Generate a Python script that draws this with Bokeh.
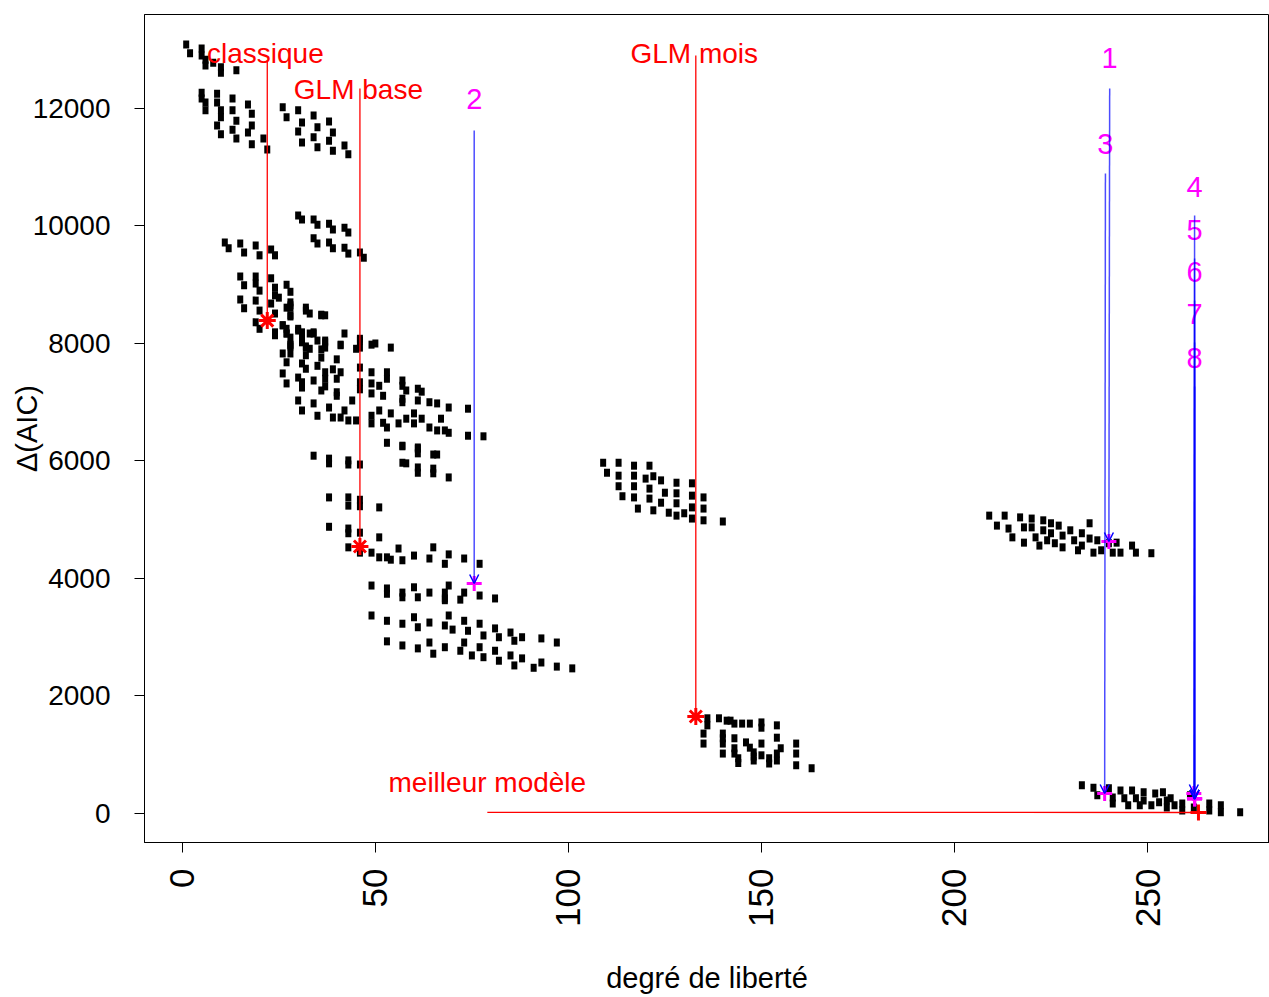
import math
from bokeh.plotting import figure
from bokeh.models import Range1d, FixedTicker, Arrow, OpenHead
from bokeh.core.properties import value
from bokeh.embed import file_html
from bokeh.resources import INLINE

FONT = "Liberation Sans"

# ---------------- data: (degré de liberté, Δ(AIC)) ----------------
df_a = [1, 2, 5, 5, 6, 6, 8, 10, 10, 14,
        5, 5, 6, 6, 9, 9, 10, 10, 9, 10, 13, 13, 14, 13, 14, 17, 18, 18, 17, 18, 21, 22]
aic_a = [13090, 12940, 13020, 12900, 12830, 12730, 12780, 12700, 12610, 12650,
         12270, 12170, 12100, 11970, 12250, 12100, 11970, 11850, 11710, 11560, 12170, 11970,
         11790, 11640, 11490, 12070, 11910, 11710, 11590, 11390, 11490, 11300]

df_a2 = [26, 27, 30, 31, 30, 31, 34, 35, 34, 35, 38, 39, 38, 39, 42, 43]
aic_a2 = [12020, 11850, 11970, 11760, 11610, 11420, 11880, 11680, 11510, 11340,
          11780, 11590, 11450, 11280, 11370, 11220]

df_b = [30, 31, 34, 35, 38, 39, 42, 43, 34, 35, 38, 39, 42, 43, 46, 47]
aic_b = [10180, 10110, 10110, 10020, 10040, 9940, 9970, 9890, 9790, 9700,
         9720, 9620, 9630, 9530, 9550, 9460]

df_c = [11, 12, 15, 16, 19, 20, 23, 24,
        15, 16, 19, 19, 20, 23, 24, 24, 25, 27, 28,
        15, 16, 19, 20, 23, 24, 28, 28, 27, 28, 32, 33, 36, 37, 19, 20, 24, 24, 26, 27,
        27, 28, 30, 31, 31, 31, 33, 34, 35, 37, 37, 28, 28, 32, 33, 41, 42, 46, 46, 49]
aic_c = [9720, 9620, 9700, 9550, 9670, 9500, 9600, 9500,
         9140, 8990, 9140, 9020, 8900, 9110, 8950, 8820, 8780, 9000, 8880,
         8750, 8600, 8730, 8560, 8680, 8510, 8700, 8610, 8610, 8460, 8610, 8510, 8490, 8480,
         8360, 8250, 8190, 8140, 8310, 8250, 8170, 8100, 8250, 8190, 8100, 8020, 8170, 8190,
         8050, 8050, 7930, 7980, 7950, 7950, 7910, 7980, 8170, 8080, 7930, 7980]

df_d = [28, 32, 36, 28, 26, 27, 30, 31, 34, 37, 46, 50, 54, 41, 45,
        26, 28, 28, 32, 32, 36, 36, 27, 31, 32, 35, 37, 40, 39, 41, 46, 49, 53,
        26, 30, 31, 34, 37, 37, 40, 46, 49, 51, 53, 57, 27, 31, 36, 40, 40, 44, 46, 49,
        52, 57, 58, 61, 62, 57, 57, 61, 64, 66, 69, 74,
        30, 31, 34, 35, 38, 39, 41, 42, 43, 45, 49, 49, 51, 52, 53, 54, 56, 58, 60, 60,
        62, 64, 66, 67, 68, 69, 74, 78, 53, 57, 61]
aic_d = [8650, 8560, 8480, 8480, 8310, 8170, 8220, 8100, 8170, 8020, 8050, 8000, 7930, 7970, 7910,
         7830, 7970, 7830, 7930, 7800, 7900, 7760, 7680, 7660, 7570, 7620, 7510, 7730, 7560,
         7510, 7590, 7510, 7510,
         7490, 7420, 7340, 7370, 7400, 7270, 7400, 7340, 7320, 7280, 7400, 7370, 7320, 7250,
         7200, 7110, 7170, 7030, 7220, 7150, 7110, 7280, 7200, 7230, 7180, 7060, 7000, 7030,
         7000, 6980, 6910, 6890,
         7030, 6860, 6980, 6770, 6910, 6740, 6740, 6860, 6690, 6690, 6640, 6770, 6860, 6650,
         6570, 6810, 6640, 6720, 6640, 6810, 6720, 6570, 6520, 6720, 6520, 6480, 6430, 6420,
         6310, 6260, 6230]

df_e = [34, 38, 38, 43, 43, 46, 57, 61, 61, 65, 66, 57, 58, 61, 61, 65, 65, 69,
        38, 43, 43, 46, 46, 51,
        38, 43, 43, 46, 51, 43, 46, 49, 51, 53, 54, 56, 57, 60, 64, 65, 68, 69, 73, 77]
aic_e = [6090, 6040, 5960, 6010, 5940, 5940, 6250, 6210, 6130, 6110, 6110, 5970, 5960, 5890,
         5800, 5870, 5790, 5720,
         5380, 5380, 5240, 5340, 5230, 5210,
         4880, 4850, 4770, 4780, 4700, 4530, 4440, 4440, 4360, 4360, 4320, 4510, 4310, 4390,
         4340, 4530, 4250, 4410, 4340, 4250]

df_f = [49, 53, 57, 60, 61, 64, 68, 69, 68, 73, 72, 77, 81, 53, 57, 68,
        49, 53, 57, 60, 61, 64, 68, 69, 70, 73, 74, 77, 78, 81, 82, 85, 86, 88, 93, 97,
        53, 57, 61, 64, 65, 68, 72, 73, 75, 77, 78, 81, 82, 85, 86, 88, 91, 93, 97, 101]
aic_f = [3880, 3830, 3760, 3850, 3680, 3760, 3760, 3880, 3660, 3760, 3640, 3710, 3660, 3740,
         3680, 3630,
         3370, 3280, 3230, 3340, 3170, 3250, 3200, 3370, 3130, 3280, 3110, 3230, 3030, 3150,
         3000, 3080, 2940, 3000, 2980, 2910,
         2930, 2860, 2810, 2910, 2720, 2830, 2770, 2910, 2690, 2830, 2660, 2770, 2600, 2690,
         2520, 2640, 2480, 2570, 2500, 2470]

df_g = [109, 110, 113, 113, 113, 114, 117, 117, 117, 117, 118, 121, 120, 122, 121, 121, 122,
        124, 125, 124, 126, 128, 128, 128, 128, 130, 132, 132, 132, 132, 135, 135, 135, 140]
aic_g = [5970, 5800, 5970, 5750, 5570, 5400, 5920, 5750, 5570, 5380, 5190, 5920, 5700, 5740,
         5530, 5360, 5160, 5670, 5460, 5290, 5120, 5630, 5450, 5280, 5070, 5110, 5620, 5410,
         5210, 5020, 5380, 5190, 4990, 4970]

df_h = [136, 136, 139, 141, 142, 143, 145, 147, 150, 150, 154, 135, 135, 140, 140, 140, 143,
        143, 144, 146, 147, 148, 148, 150, 150, 152, 154, 155, 154, 159, 159, 159, 163,
        140, 143, 144, 148, 152, 154]
aic_h = [1620, 1500, 1620, 1580, 1580, 1530, 1530, 1530, 1550, 1460, 1500, 1360, 1190, 1360,
         1190, 1020, 1280, 1110, 940, 1210, 1120, 1040, 900, 1190, 990, 850, 1290, 1110, 900,
         1190, 1020, 820, 770,
         1280, 1020, 860, 970, 940, 1020]

df_i = [209, 211, 213, 214, 215, 217, 218, 218, 220, 220, 221, 222, 223, 223, 224, 225, 225,
        226, 227, 228, 228, 230, 231, 232, 233, 233, 235, 235, 236, 237, 238, 240, 241, 242,
        243, 246, 247, 251]
aic_i = [5070, 4900, 5070, 4850, 4700, 5040, 4870, 4610, 5020, 4870, 4700, 4560, 4990, 4820,
         4650, 4940, 4770, 4600, 4900, 4730, 4530, 4820, 4650, 4480, 4770, 4560, 4940, 4680,
         4440, 4650, 4480, 4600, 4440, 4610, 4440, 4560, 4440, 4430]

df_j = [233, 236, 237, 240, 241, 241, 243, 244, 245, 246, 247, 248, 249, 249, 251, 252, 253,
        254, 255, 255, 256, 257, 259, 259, 261, 262, 266, 266, 269, 269, 274]
aic_j = [480, 440, 310, 430, 270, 170, 390, 260, 140, 390, 260, 140, 360, 220, 140, 340, 190,
         360, 220, 100, 260, 140, 170, 50, 310, 100, 170, 50, 140, 20, 20]

# red annotated models
red_labels = ["classique", "GLM base", "GLM mois", "meilleur modèle"]
red_lab_x = [21.5, 45.6, 132.6, 79]
red_lab_y = [12940, 12320, 12940, 530]
red_from_x = [22, 46, 133, 79]
red_from_y = [12820, 12340, 12900, 20]
red_pt_x = [22, 46, 133]
red_pt_y = [8390, 4545, 1650]
best_x = [263.2]
best_y = [17]

# numbered (blue arrows, magenta points)
num_labels = ["1", "2", "3", "4", "5", "6", "7", "8"]
num_lab_x = [240.2, 75.6, 239.1, 262.2, 262.2, 262.2, 262.2, 262.2]
num_lab_y = [12867, 12169, 11403, 10672, 9940, 9225, 8510, 7761]
num_from_y = [12340, 11625, 10893, 10178, 9446, 8731, 8016, 7268]
num_pt_x = [240.0, 75.6, 238.9, 262.0, 262.2, 262.2, 262.2, 262.2]
num_pt_y = [4630, 3915, 340, 340, 250, 250, 250, 250]

x_ticks = [0, 50, 100, 150, 200, 250]
y_ticks = [0, 2000, 4000, 6000, 8000, 10000, 12000]

# ---------------- figure ----------------
p = figure(width=1269, height=997, output_backend="svg", toolbar_location=None,
           x_range=Range1d(-9.8, 281.6), y_range=Range1d(-494, 13600))
p.min_border_left = 144
p.min_border_top = 14
p.min_border_bottom = 155
p.min_border_right = 0
p.grid.visible = False
p.outline_line_color = "black"
p.outline_line_width = 1
p.background_fill_color = "white"
p.border_fill_color = "white"

for ax in (p.xaxis[0], p.yaxis[0]):
    ax.major_tick_out = 10
    ax.major_tick_in = 0
    ax.minor_tick_out = 0
    ax.minor_tick_in = 0
    ax.axis_line_color = "black"
    ax.major_tick_line_color = "black"
    ax.major_label_text_font = FONT
    ax.major_label_text_color = "black"
    ax.axis_label_text_font = FONT
    ax.axis_label_text_font_style = "normal"
    ax.axis_label_text_color = "black"

p.xaxis.ticker = FixedTicker(ticks=x_ticks)
p.yaxis.ticker = FixedTicker(ticks=y_ticks)
p.xaxis.major_label_orientation = math.pi / 2
p.xaxis.major_label_text_font_size = "35px"
p.yaxis.major_label_text_font_size = "28px"
p.xaxis.major_label_standoff = 16
p.yaxis.major_label_standoff = 24

p.xaxis.axis_label = "degré de liberté"
p.xaxis.axis_label_text_font_size = "29px"
p.xaxis.axis_label_standoff = 32
p.yaxis.axis_label = "Δ(AIC)"
p.yaxis.axis_label_text_font_size = "29px"
p.yaxis.axis_label_standoff = -13

# all points (small filled squares, slightly taller than wide)
all_x = df_a + df_a2 + df_b + df_c + df_d + df_e + df_f + df_g + df_h + df_i + df_j
all_y = aic_a + aic_a2 + aic_b + aic_c + aic_d + aic_e + aic_f + aic_g + aic_h + aic_i + aic_j
p.rect(all_x, all_y, width=6, height=8, width_units="screen", height_units="screen",
       fill_color="black", line_color=None)

# red segments and labels
p.segment(red_from_x, red_from_y, red_pt_x + best_x, red_pt_y + best_y,
          line_color="red", line_width=1.3)
p.scatter(red_pt_x, red_pt_y, marker="asterisk", size=17, line_color="red", line_width=3)
p.scatter(best_x, best_y, marker="cross", size=16, line_color="red", line_width=3)
p.text(red_lab_x, red_lab_y, text=red_labels, text_color="red", text_font=value(FONT),
       text_font_size="28px", text_align="center", text_baseline="middle")

# blue arrows + magenta points
for lx, fy, px_, py_ in zip(num_lab_x, num_from_y, num_pt_x, num_pt_y):
    p.add_layout(Arrow(x_start=lx, y_start=fy, x_end=px_, y_end=py_,
                       line_color="blue", line_width=1.5, line_alpha=0.7,
                       end=OpenHead(size=9, line_color="blue", line_width=1.5)))
p.scatter(num_pt_x, num_pt_y, marker="cross", size=15, line_color="magenta", line_width=3)
p.text(num_lab_x, num_lab_y, text=num_labels, text_color="magenta", text_font=value(FONT),
       text_font_size="29px", text_align="center", text_baseline="middle")

open("out.html", "w").write(file_html(p, INLINE))
